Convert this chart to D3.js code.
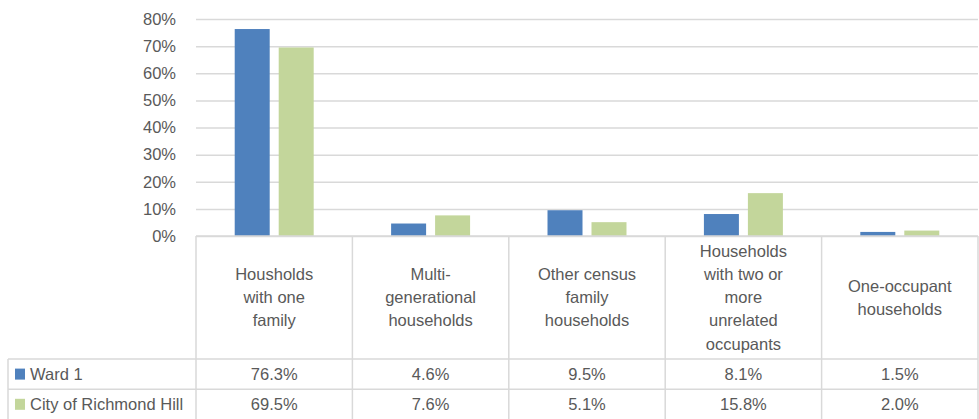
<!DOCTYPE html>
<html>
<head>
<meta charset="utf-8">
<script src="https://cdn.jsdelivr.net/npm/d3@7"></script>
<style>
  body { margin: 0; background: #fff; }
  text { font-family: "Liberation Sans", Arial, sans-serif; fill: #595959; }
</style>
</head>
<body>
<script>
var categories = [
  "Housholds\nwith one\nfamily",
  "Multi-\ngenerational\nhouseholds",
  "Other census\nfamily\nhouseholds",
  "Households\nwith two or\nmore\nunrelated\noccupants",
  "One-occupant\nhouseholds"
];
var seriesNames = ["Ward 1", "City of Richmond Hill"];
var ward1 = [76.3, 4.6, 9.5, 8.1, 1.5];
var richmondHill = [69.5, 7.6, 5.1, 15.8, 2.0];
var yTicks = [0, 10, 20, 30, 40, 50, 60, 70, 80];
var colors = ["#4f81bd", "#c3d69b"];

var fontSize = 16.5;

var margin = {top: 19, right: 1, bottom: 183, left: 196},
  width = 979 - margin.left - margin.right,
  height = 419 - margin.top - margin.bottom;

var seriesValues = [ward1, richmondHill];

var x = d3.scaleBand().domain(d3.range(categories.length)).range([0, width]).padding(0);
var xs = d3.scaleBand().domain(d3.range(seriesNames.length))
  .range([0, x.bandwidth()]).paddingInner(0.2045).paddingOuter(0.88);
var y = d3.scaleLinear().domain([0, 80]).range([height, 0]);

var svg = d3.select("body").append("svg")
  .attr("width", 979)
  .attr("height", 419);

var g = svg.append("g")
  .attr("transform", "translate(" + margin.left + "," + margin.top + ")");

// gridlines + y labels
var yAxis = d3.axisLeft(y)
  .tickValues(yTicks)
  .tickSize(-width)
  .tickPadding(20)
  .tickFormat(function(d) { return d + "%"; });

var ya = g.append("g").call(yAxis);
ya.select(".domain").remove();
ya.selectAll("line").attr("stroke", "#d9d9d9").attr("stroke-width", 1.5);
ya.selectAll("text").attr("font-size", fontSize).style("font-family", "Liberation Sans, Arial, sans-serif").attr("fill", "#595959");

// bars
var groups = g.selectAll(".cat")
  .data(categories)
  .enter().append("g")
  .attr("transform", function(d, i) { return "translate(" + x(i) + ",0)"; });

groups.selectAll("rect")
  .data(function(d, i) { return seriesValues.map(function(s, j) { return {s: j, v: s[i]}; }); })
  .enter().append("rect")
  .attr("x", function(d) { return xs(d.s); })
  .attr("y", function(d) { return y(d.v); })
  .attr("width", xs.bandwidth())
  .attr("height", function(d) { return height - y(d.v); })
  .attr("fill", function(d) { return colors[d.s]; });

// data table
var tableTop = margin.top + height;
var headerH = 123, rowH = 30.2;
var tableLeft = 8;
var lineColor = "#d9d9d9";
var t = svg.append("g");

function hline(x1, x2, yy) {
  t.append("line").attr("x1", x1).attr("x2", x2).attr("y1", yy).attr("y2", yy)
    .attr("stroke", lineColor).attr("stroke-width", 1.5);
}
function vline(xx, y1, y2) {
  t.append("line").attr("x1", xx).attr("x2", xx).attr("y1", y1).attr("y2", y2)
    .attr("stroke", lineColor).attr("stroke-width", 1.5);
}

hline(margin.left, margin.left + width, tableTop);
hline(tableLeft, margin.left + width, tableTop + headerH);
hline(tableLeft, margin.left + width, tableTop + headerH + rowH);
vline(tableLeft, tableTop + headerH, 419);
categories.forEach(function(c, i) { vline(margin.left + x(i), tableTop, 419); });
vline(margin.left + width, tableTop, 419);

// header labels
categories.forEach(function(c, i) {
  var lines = c.split("\n");
  var cx = margin.left + x(i) + x.bandwidth() / 2;
  var cy = tableTop + headerH / 2;
  var lh = 23.2;
  var txt = t.append("text").attr("text-anchor", "middle").attr("font-size", fontSize);
  lines.forEach(function(l, k) {
    txt.append("tspan").attr("x", cx)
      .attr("y", cy + (k - (lines.length - 1) / 2) * lh)
      .attr("dy", "0.35em")
      .text(l);
  });
});

// value rows
seriesNames.forEach(function(name, j) {
  var rowMid = tableTop + headerH + rowH * j + rowH / 2;
  t.append("rect").attr("x", 15).attr("y", rowMid - 5.5).attr("width", 10).attr("height", 11)
    .attr("fill", colors[j]);
  t.append("text").attr("x", 30).attr("y", rowMid).attr("dy", "0.35em")
    .attr("font-size", fontSize).text(name);
  seriesValues[j].forEach(function(v, i) {
    t.append("text")
      .attr("x", margin.left + x(i) + x.bandwidth() / 2)
      .attr("y", rowMid).attr("dy", "0.35em")
      .attr("text-anchor", "middle").attr("font-size", fontSize)
      .text(v.toFixed(1) + "%");
  });
});
</script>
</body>
</html>
